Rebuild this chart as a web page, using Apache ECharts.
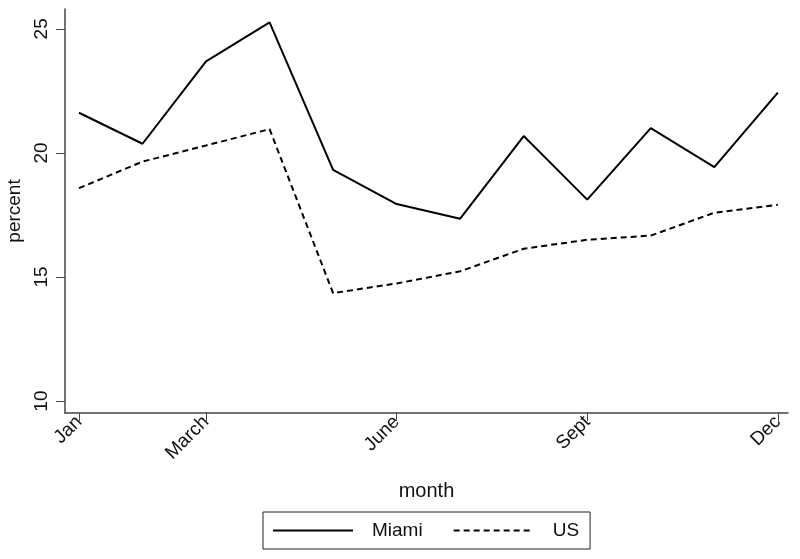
<!DOCTYPE html>
<html>
<head>
<meta charset="utf-8">
<script src="https://cdn.jsdelivr.net/npm/echarts@6/dist/echarts.min.js"></script>
<style>
  html, body { margin: 0; padding: 0; background: #fff; }
  #chart { width: 800px; height: 559px; }
</style>
</head>
<body>
<div id="chart"></div>
<script>
// month numbers and the labels shown on the x axis
var months = [1, 2, 3, 4, 5, 6, 7, 8, 9, 10, 11, 12];
var monthTicks = [1, 3, 6, 9, 12];
var monthNames = {1: 'Jan', 3: 'March', 6: 'June', 9: 'Sept', 12: 'Dec'};
var percentTicks = [10, 15, 20, 25];

var miami = [21.62, 20.37, 23.69, 25.26, 19.32, 17.94, 17.35, 20.68, 18.12, 21.0, 19.43, 22.43];
var us = [18.58, 19.65, 20.30, 20.96, 14.35, 14.74, 15.23, 16.14, 16.5, 16.67, 17.59, 17.91];

function pairs(vals) {
    return months.map(function (m, i) { return [m, vals[i]]; });
}

var font = 'Liberation Sans, Arial, sans-serif';
var ink = '#111';
var axisCol = '#444';

var option = {
    animation: false,
    textStyle: {fontFamily: font},
    grid: {left: 65, right: 12, top: 9, bottom: 146, containLabel: false, outerBoundsMode: 'none'},
    legend: {
        data: ['Miami', 'US'],
        top: 512,
        left: 263,
        itemWidth: 80,
        itemHeight: 14,
        itemGap: 30,
        padding: [9, 11, 9, 9],
        borderColor: '#222',
        borderWidth: 1,
        itemStyle: {opacity: 0},
        textStyle: {fontSize: 19, color: ink, fontFamily: font, padding: [0, 0, 0, 14]}
    },
    xAxis: {
        type: 'value',
        min: 0.78,
        max: 12.16,
        name: 'month',
        nameLocation: 'middle',
        nameGap: 68,
        nameTextStyle: {fontSize: 20, color: ink},
        splitLine: {show: false},
        axisLine: {lineStyle: {color: axisCol, width: 1.5}},
        axisTick: {customValues: monthTicks, length: 8, lineStyle: {color: axisCol}},
        axisLabel: {
            customValues: monthTicks,
            rotate: 45,
            fontSize: 19,
            color: ink,
            margin: 6,
            formatter: function (v) { return monthNames[v] || ''; }
        }
    },
    yAxis: {
        type: 'value',
        min: 9.52,
        max: 25.8,
        name: 'percent',
        nameLocation: 'middle',
        nameGap: 38,
        nameTextStyle: {fontSize: 19, color: ink},
        splitLine: {show: false},
        axisLine: {show: true, lineStyle: {color: axisCol, width: 1.5}},
        axisTick: {show: true, customValues: percentTicks, length: 9, lineStyle: {color: axisCol}},
        axisLabel: {
            customValues: percentTicks,
            rotate: 90,
            fontSize: 19,
            color: ink,
            margin: 14
        }
    },
    series: [
        {
            name: 'Miami',
            type: 'line',
            data: pairs(miami),
            symbol: 'none',
            lineStyle: {color: '#000', width: 2, type: 'solid'},
            itemStyle: {color: '#000'}
        },
        {
            name: 'US',
            type: 'line',
            data: pairs(us),
            symbol: 'none',
            lineStyle: {color: '#000', width: 2, type: [6, 4]},
            itemStyle: {color: '#000'}
        }
    ]
};

var chart = echarts.init(document.getElementById('chart'));
chart.setOption(option);
</script>
</body>
</html>
